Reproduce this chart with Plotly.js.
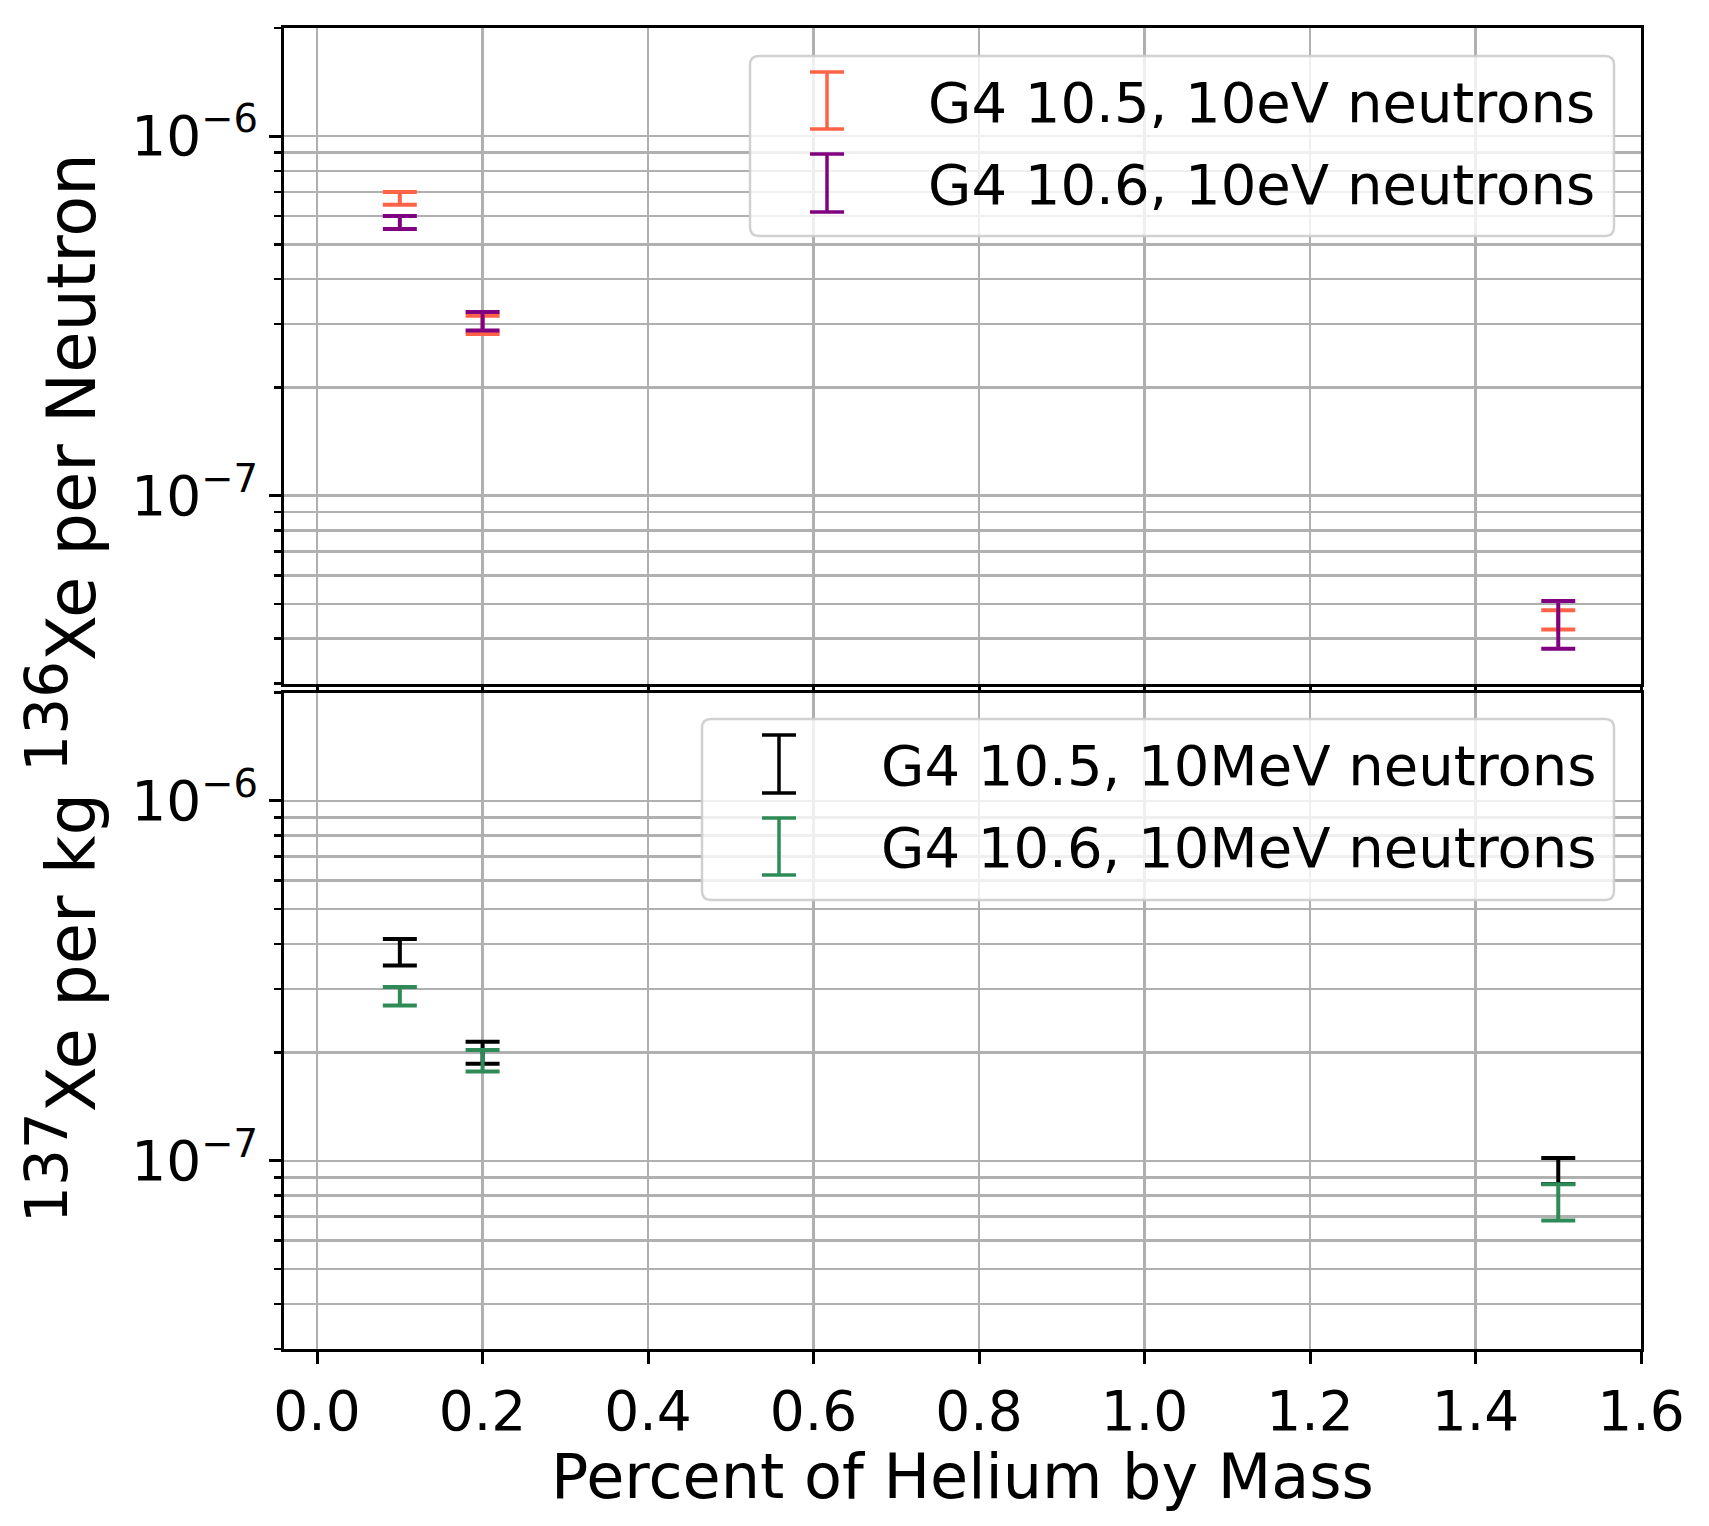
<!DOCTYPE html>
<html>
<head>
<meta charset="utf-8">
<script src="https://cdn.plot.ly/plotly-3.0.1.min.js"></script>
<style>
  html, body { margin: 0; padding: 0; background: #ffffff; }
  #chart { width: 1709px; height: 1526px; }
</style>
</head>
<body>
<div id="chart"></div>
<script>
// ---------------- data ----------------
const heliumPercent = [0.1, 0.2, 1.5];

// top panel: 10 eV neutrons
const topNames  = ["G4 10.5, 10eV neutrons", "G4 10.6, 10eV neutrons"];
const topColors = ["#ff6347", "#800080"];
const eV_105     = [6.72e-7, 2.99e-7, 4.52e-8];
const eV_105_err = [0.27e-7, 0.175e-7, 0.28e-8];
const eV_106     = [5.76e-7, 3.06e-7, 4.42e-8];
const eV_106_err = [0.24e-7, 0.18e-7, 0.67e-8];

// bottom panel: 10 MeV neutrons
const botNames  = ["G4 10.5, 10MeV neutrons", "G4 10.6, 10MeV neutrons"];
const botColors = ["#000000", "#2e8b57"];
const MeV_105     = [3.81e-7, 2.00e-7, 9.40e-8];
const MeV_105_err = [0.32e-7, 0.14e-7, 0.78e-8];
const MeV_106     = [2.87e-7, 1.90e-7, 7.72e-8];
const MeV_106_err = [0.17e-7, 0.13e-7, 0.89e-8];

// axis ticks
const xTickVals = [0.0, 0.2, 0.4, 0.6, 0.8, 1.0, 1.2, 1.4, 1.6];
const xTickText = ["0.0", "0.2", "0.4", "0.6", "0.8", "1.0", "1.2", "1.4", "1.6"];
const yMajorVals = [1e-7, 1e-6];
const yMajorText = ["10<sup>\u22127</sup>", "10<sup>\u22126</sup>"];
const yMinorVals = [3e-8, 4e-8, 5e-8, 6e-8, 7e-8, 8e-8, 9e-8,
                    2e-7, 3e-7, 4e-7, 5e-7, 6e-7, 7e-7, 8e-7, 9e-7, 2e-6];
const yLabel = "<sup><span style=\"font-size:58px\">137</span></sup>Xe per kg " +
               "<sup><span style=\"font-size:58px\">136</span></sup>Xe per Neutron";
const xLabel = "Percent of Helium by Mass";

// ---------------- layout helpers ----------------
const FIG_W = 1709, FIG_H = 1526;
const PL = 284, PR = 1641, PT = 28, PB = 1349;
const PW = PR - PL, PH = PB - PT;
const px = v => (v - PL) / PW;
const py = v => (PB - v) / PH;
const FONT = "DejaVu Sans, Verdana, sans-serif";

function errTrace(y, err, color, name, xa, ya) {
  return {
    type: "scatter", mode: "markers", x: heliumPercent, y: y, name: name,
    xaxis: xa, yaxis: ya, showlegend: false,
    marker: { size: 2, color: color, opacity: 0 },
    error_y: { type: "data", array: err, visible: true, color: color, thickness: 4, width: 17 },
    hoverinfo: "x+y+name"
  };
}

const traces = [
  errTrace(eV_105, eV_105_err, topColors[0], topNames[0], "x", "y"),
  errTrace(eV_106, eV_106_err, topColors[1], topNames[1], "x", "y"),
  errTrace(MeV_105, MeV_105_err, botColors[0], botNames[0], "x2", "y2"),
  errTrace(MeV_106, MeV_106_err, botColors[1], botNames[1], "x2", "y2")
];

const yRange = [Math.log10(3.0e-8), Math.log10(2.0e-6)];

function yAxis(domain, anchor) {
  return {
    type: "log", range: yRange, domain: domain, anchor: anchor,
    tickmode: "array", tickvals: yMajorVals, ticktext: yMajorText,
    ticks: "outside", ticklen: 12, tickwidth: 3, tickcolor: "#000",
    showline: true, linecolor: "#000", linewidth: 3, mirror: true,
    showgrid: true, gridcolor: "#b0b0b0", gridwidth: 2.5,
    zeroline: false,
    tickfont: { family: FONT, size: 55, color: "#000" },
    minor: { tickmode: "array", tickvals: yMinorVals, ticks: "outside", ticklen: 7,
             tickwidth: 2.5, tickcolor: "#000", showgrid: true, gridcolor: "#b0b0b0", gridwidth: 2.5 }
  };
}

function xAxis(anchor, labels) {
  return {
    range: [-0.04, 1.6], anchor: anchor, domain: [0, 1],
    tickmode: "array", tickvals: xTickVals, ticktext: xTickText,
    showticklabels: labels,
    ticks: "outside", ticklen: labels ? 12 : 5, tickwidth: 3, tickcolor: "#000",
    showline: true, linecolor: "#000", linewidth: 3, mirror: true,
    showgrid: true, gridcolor: "#b0b0b0", gridwidth: 2.5,
    zeroline: false,
    tickfont: { family: FONT, size: 55, color: "#000" }
  };
}

// legend boxes and symbols (drawn as shapes + text)
function roundedBox(x0, y0, x1, y1, r) {
  const X0 = px(x0), X1 = px(x1), Y0 = py(y0), Y1 = py(y1);
  const rx = r / PW, ry = r / PH;
  const path = `M ${X0 + rx},${Y0} L ${X1 - rx},${Y0} Q ${X1},${Y0} ${X1},${Y0 - ry} ` +
               `L ${X1},${Y1 + ry} Q ${X1},${Y1} ${X1 - rx},${Y1} L ${X0 + rx},${Y1} ` +
               `Q ${X0},${Y1} ${X0},${Y1 + ry} L ${X0},${Y0 - ry} Q ${X0},${Y0} ${X0 + rx},${Y0} Z`;
  return { type: "path", xref: "paper", yref: "paper", path: path,
           fillcolor: "rgba(255,255,255,0.8)", line: { color: "rgba(204,204,204,0.9)", width: 2.5 } };
}
function ibeam(cx, y0, y1, color) {
  const hw = 17, lw = 3.5;
  const mk = (xa, ya, xb, yb) => ({ type: "line", xref: "paper", yref: "paper",
    x0: px(xa), y0: py(ya), x1: px(xb), y1: py(yb), line: { color: color, width: lw } });
  return [mk(cx, y0, cx, y1), mk(cx - hw, y0, cx + hw, y0), mk(cx - hw, y1, cx + hw, y1)];
}

const legendSpec = [
  { box: [750, 56, 1614, 236], symX: 827, textX: 926,
    rows: [[72, 129, 102], [154, 212, 184]], names: topNames, colors: topColors },
  { box: [702, 719, 1614, 900], symX: 779, textX: 879,
    rows: [[735, 793, 765], [818, 875, 847]], names: botNames, colors: botColors }
];

const shapes = [];
const annotations = [];
legendSpec.forEach(L => {
  shapes.push(roundedBox(L.box[0], L.box[1], L.box[2], L.box[3], 9));
  L.rows.forEach((r, i) => {
    ibeam(L.symX, r[0], r[1], L.colors[i]).forEach(s => shapes.push(s));
    annotations.push({
      xref: "paper", yref: "paper", x: px(L.textX), y: py(r[2]),
      xanchor: "left", yanchor: "middle", showarrow: false,
      text: L.names[i], font: { family: FONT, size: 56, color: "#000" }
    });
  });
});

// shared y label
annotations.push({
  xref: "paper", yref: "paper", x: px(62), y: py(688),
  xanchor: "center", yanchor: "middle", showarrow: false, textangle: -90,
  text: yLabel, font: { family: FONT, size: 67, color: "#000" }
});
// x axis title
annotations.push({
  xref: "paper", yref: "paper", x: 0.5, y: py(1476),
  xanchor: "center", yanchor: "middle", showarrow: false,
  text: xLabel, font: { family: FONT, size: 62, color: "#000" }
});

const layout = {
  width: FIG_W, height: FIG_H,
  margin: { l: PL, r: FIG_W - PR, t: PT, b: FIG_H - PB, pad: 0 },
  paper_bgcolor: "#ffffff", plot_bgcolor: "#ffffff",
  showlegend: false,
  font: { family: FONT, color: "#000" },
  xaxis: xAxis("y", false),
  yaxis: yAxis([py(683.5), 1], "x"),
  xaxis2: Object.assign(xAxis("y2", true), { matches: "x" }),
  yaxis2: yAxis([0, py(692.5)], "x2"),
  shapes: shapes,
  annotations: annotations
};

Plotly.newPlot("chart", traces, layout, { displayModeBar: false, staticPlot: true });
</script>
</body>
</html>
